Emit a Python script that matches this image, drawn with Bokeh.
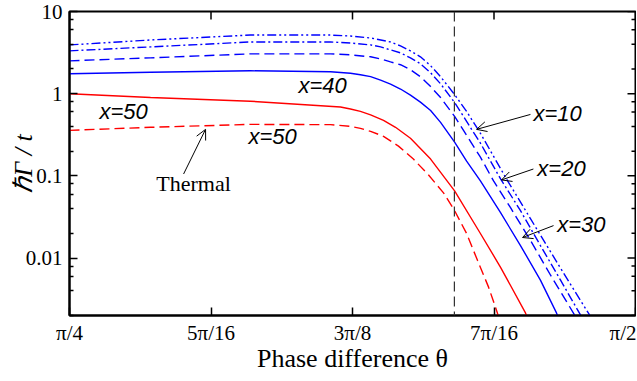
import numpy as np
from bokeh.plotting import figure
from bokeh.models import FixedTicker, Span, Label, Arrow, OpenHead
from bokeh.embed import file_html
from bokeh.resources import INLINE

# Phase difference theta, in units of pi; decay rate hbar*Gamma/t
theta_x40 = [0.25, 0.2858, 0.3299, 0.3653, 0.3741, 0.3785, 0.3830, 0.3874, 0.3918, 0.3962, 0.4006,
             0.4050, 0.4095, 0.4139, 0.4201, 0.4254, 0.4315, 0.4404, 0.4492, 0.4580, 0.4651, 0.4660]
gamma_x40 = [1.75, 1.82, 1.90, 1.85, 1.77, 1.70, 1.61, 1.46, 1.31, 1.14, 0.96,
             0.79, 0.625, 0.448, 0.257, 0.151, 0.0868, 0.0356, 0.0142, 0.00538, 0.00215, 0.00187]

theta_x30 = [0.25, 0.2858, 0.3299, 0.3653, 0.3741, 0.3830, 0.3874, 0.3918, 0.3962, 0.4006, 0.4050,
             0.4095, 0.4139, 0.4201, 0.4254, 0.4315, 0.4373, 0.4448, 0.4536, 0.4625, 0.4731, 0.4740]
gamma_x30 = [2.51, 2.73, 3.05, 3.05, 2.97, 2.81, 2.65, 2.44, 2.25, 1.96, 1.61,
             1.22, 0.897, 0.529, 0.312, 0.169, 0.0868, 0.0410, 0.0164, 0.00618, 0.00203, 0.00187]

theta_x20 = [0.25, 0.2858, 0.3299, 0.3653, 0.3741, 0.3830, 0.3874, 0.3918, 0.3962, 0.4006, 0.4050,
             0.4095, 0.4139, 0.4201, 0.4254, 0.4315, 0.4404, 0.4492, 0.4580, 0.4669, 0.4757, 0.4766]
gamma_x20 = [3.32, 3.71, 4.26, 4.26, 4.14, 3.92, 3.71, 3.41, 3.14, 2.73, 2.31,
             1.80, 1.32, 0.781, 0.460, 0.250, 0.0918, 0.0377, 0.0142, 0.00538, 0.00203, 0.00187]

theta_x10 = [0.25, 0.2858, 0.3299, 0.3653, 0.3741, 0.3830, 0.3918, 0.3962, 0.4006, 0.4050,
             0.4095, 0.4139, 0.4201, 0.4254, 0.4315, 0.4430, 0.4536, 0.4669, 0.4797, 0.4806]
gamma_x10 = [3.92, 4.50, 5.17, 5.17, 5.03, 4.76, 4.26, 3.81, 3.32, 2.81,
             2.19, 1.61, 0.975, 0.608, 0.330, 0.0918, 0.0302, 0.00751, 0.00203, 0.00187]

theta_x50 = [0.25, 0.2858, 0.3299, 0.3697, 0.3741, 0.3785, 0.3830, 0.3887, 0.3940, 0.4006,
             0.4095, 0.4201, 0.4315, 0.4404, 0.4514, 0.4523]
gamma_x50 = [1.0, 0.897, 0.81, 0.689, 0.652, 0.608, 0.551, 0.473, 0.390, 0.287,
             0.160, 0.0657, 0.0199, 0.00772, 0.00215, 0.00187]

theta_th50 = [0.25, 0.2858, 0.3299, 0.3653, 0.3741, 0.3785, 0.3830, 0.3887, 0.3953, 0.4019,
              0.4086, 0.4152, 0.4201, 0.4254, 0.4302, 0.4351, 0.4390, 0.4395]
gamma_th50 = [0.358, 0.39, 0.423, 0.420, 0.400, 0.379, 0.348, 0.303, 0.230, 0.160,
              0.1025, 0.0621, 0.0377, 0.0199, 0.00938, 0.00443, 0.00215, 0.00187]

x_ticks = [0.25, 0.3125, 0.375, 0.4375, 0.5]
x_tick_labels = ["π/4", "5π/16", "3π/8", "7π/16", "π/2"]
y_ticks = [0.01, 0.1, 1, 10]
y_tick_labels = ["0.01", "0.1", "1", "10"]
y_minor = [m * d for d in [0.001, 0.01, 0.1, 1] for m in (2, 4, 6, 8)]
theta_marker = 0.42
x_start, x_end = 0.25, 0.5
y_start, y_end = 0.002, 10

SERIF = "Liberation Serif"
SANS = "Liberation Sans"

p = figure(width=636, height=376, x_range=(x_start, x_end), y_range=(y_start, y_end),
           y_axis_type="log", output_backend="svg", toolbar_location=None,
           min_border_left=69, min_border_right=1, min_border_top=11, min_border_bottom=61)
p.grid.visible = False
p.outline_line_color = "black"
p.outline_line_width = 2
p.background_fill_color = "white"
p.border_fill_color = "white"

def style_axis(ax):
    ax.axis_line_width = 2
    ax.axis_line_color = "black"
    ax.major_tick_in = 8
    ax.major_tick_out = 0
    ax.minor_tick_in = 4
    ax.minor_tick_out = 0
    ax.major_tick_line_width = 1.5
    ax.minor_tick_line_width = 1.5
    ax.major_label_text_font = SERIF
    ax.major_label_text_font_size = "21px"
    ax.major_label_text_color = "black"

xb = p.xaxis[0]
xb.ticker = FixedTicker(ticks=x_ticks)
xb.major_label_overrides = dict(zip(x_ticks, x_tick_labels))
style_axis(xb)
xb.major_label_standoff = 5
xb.axis_label = "Phase difference θ"
xb.axis_label_text_font = SERIF
xb.axis_label_text_font_size = "26px"
xb.axis_label_text_font_style = "normal"
xb.axis_label_text_color = "black"
xb.axis_label_standoff = -4

yl = p.yaxis[0]
yl.ticker = FixedTicker(ticks=y_ticks, minor_ticks=y_minor)
yl.major_label_overrides = dict(zip(y_ticks, y_tick_labels))
style_axis(yl)
yl.major_label_standoff = 7
yl.axis_label = "ℏΓ / t"
yl.axis_label_text_font = SERIF
yl.axis_label_text_font_size = "26px"
yl.axis_label_text_font_style = "italic"
yl.axis_label_text_color = "black"
yl.axis_label_standoff = -15

# mirrored inward ticks on the top and right frame edges (half of each dash is clipped by the frame)
p.scatter(x_ticks, [y_end] * len(x_ticks), marker="dash", size=16, angle=np.pi / 2,
          line_color="black", line_width=1.5)
p.scatter([x_end] * len(y_ticks), y_ticks, marker="dash", size=16,
          line_color="black", line_width=1.5)
p.scatter([x_end] * len(y_minor), y_minor, marker="dash", size=8,
          line_color="black", line_width=1.5)

BLUE = "#0000ff"
RED = "#ff0000"
lw = 1.4
p.line(theta_x40, gamma_x40, line_color=BLUE, line_width=lw)
p.line(theta_x30, gamma_x30, line_color=BLUE, line_width=lw, line_dash="10 5")
p.line(theta_x20, gamma_x20, line_color=BLUE, line_width=lw, line_dash="9 3 2 3")
p.line(theta_x10, gamma_x10, line_color=BLUE, line_width=lw, line_dash="9 3 2 3 2 3")
p.line(theta_x50, gamma_x50, line_color=RED, line_width=lw)
p.line(theta_th50, gamma_th50, line_color=RED, line_width=lw, line_dash="10 5")

p.add_layout(Span(location=theta_marker, dimension="height", line_color="#333333",
                  line_width=1.2, line_dash="10 5"))

labels = [
    ("x=50", 0.2739, 0.608, SANS, "italic"),
    ("x=50", 0.3397, 0.303, SANS, "italic"),
    ("x=40", 0.3618, 1.252, SANS, "italic"),
    ("x=10", 0.4656, 0.575, SANS, "italic"),
    ("x=20", 0.4673, 0.1245, SANS, "italic"),
    ("x=30", 0.4761, 0.02553, SANS, "italic"),
    ("Thermal", 0.3048, 0.0798, SERIF, "normal"),
]
for txt, lx, ly, fnt, sty in labels:
    p.add_layout(Label(x=lx, y=ly, text=txt, text_font=fnt, text_font_style=sty,
                       text_font_size="22px", text_align="center", text_baseline="middle",
                       text_color="black"))

arrows = [
    (0.3004, 0.1054, 0.3101, 0.368),
    (0.4536, 0.559, 0.4298, 0.368),
    (0.4549, 0.1212, 0.4408, 0.0892),
    (0.4638, 0.02483, 0.4501, 0.01778),
]
for xs, ys, xe, ye in arrows:
    p.add_layout(Arrow(end=OpenHead(size=10, line_width=1, line_color="black"),
                       x_start=xs, y_start=ys, x_end=xe, y_end=ye,
                       line_width=1, line_color="black"))

open("out.html", "w").write(file_html(p, INLINE))
